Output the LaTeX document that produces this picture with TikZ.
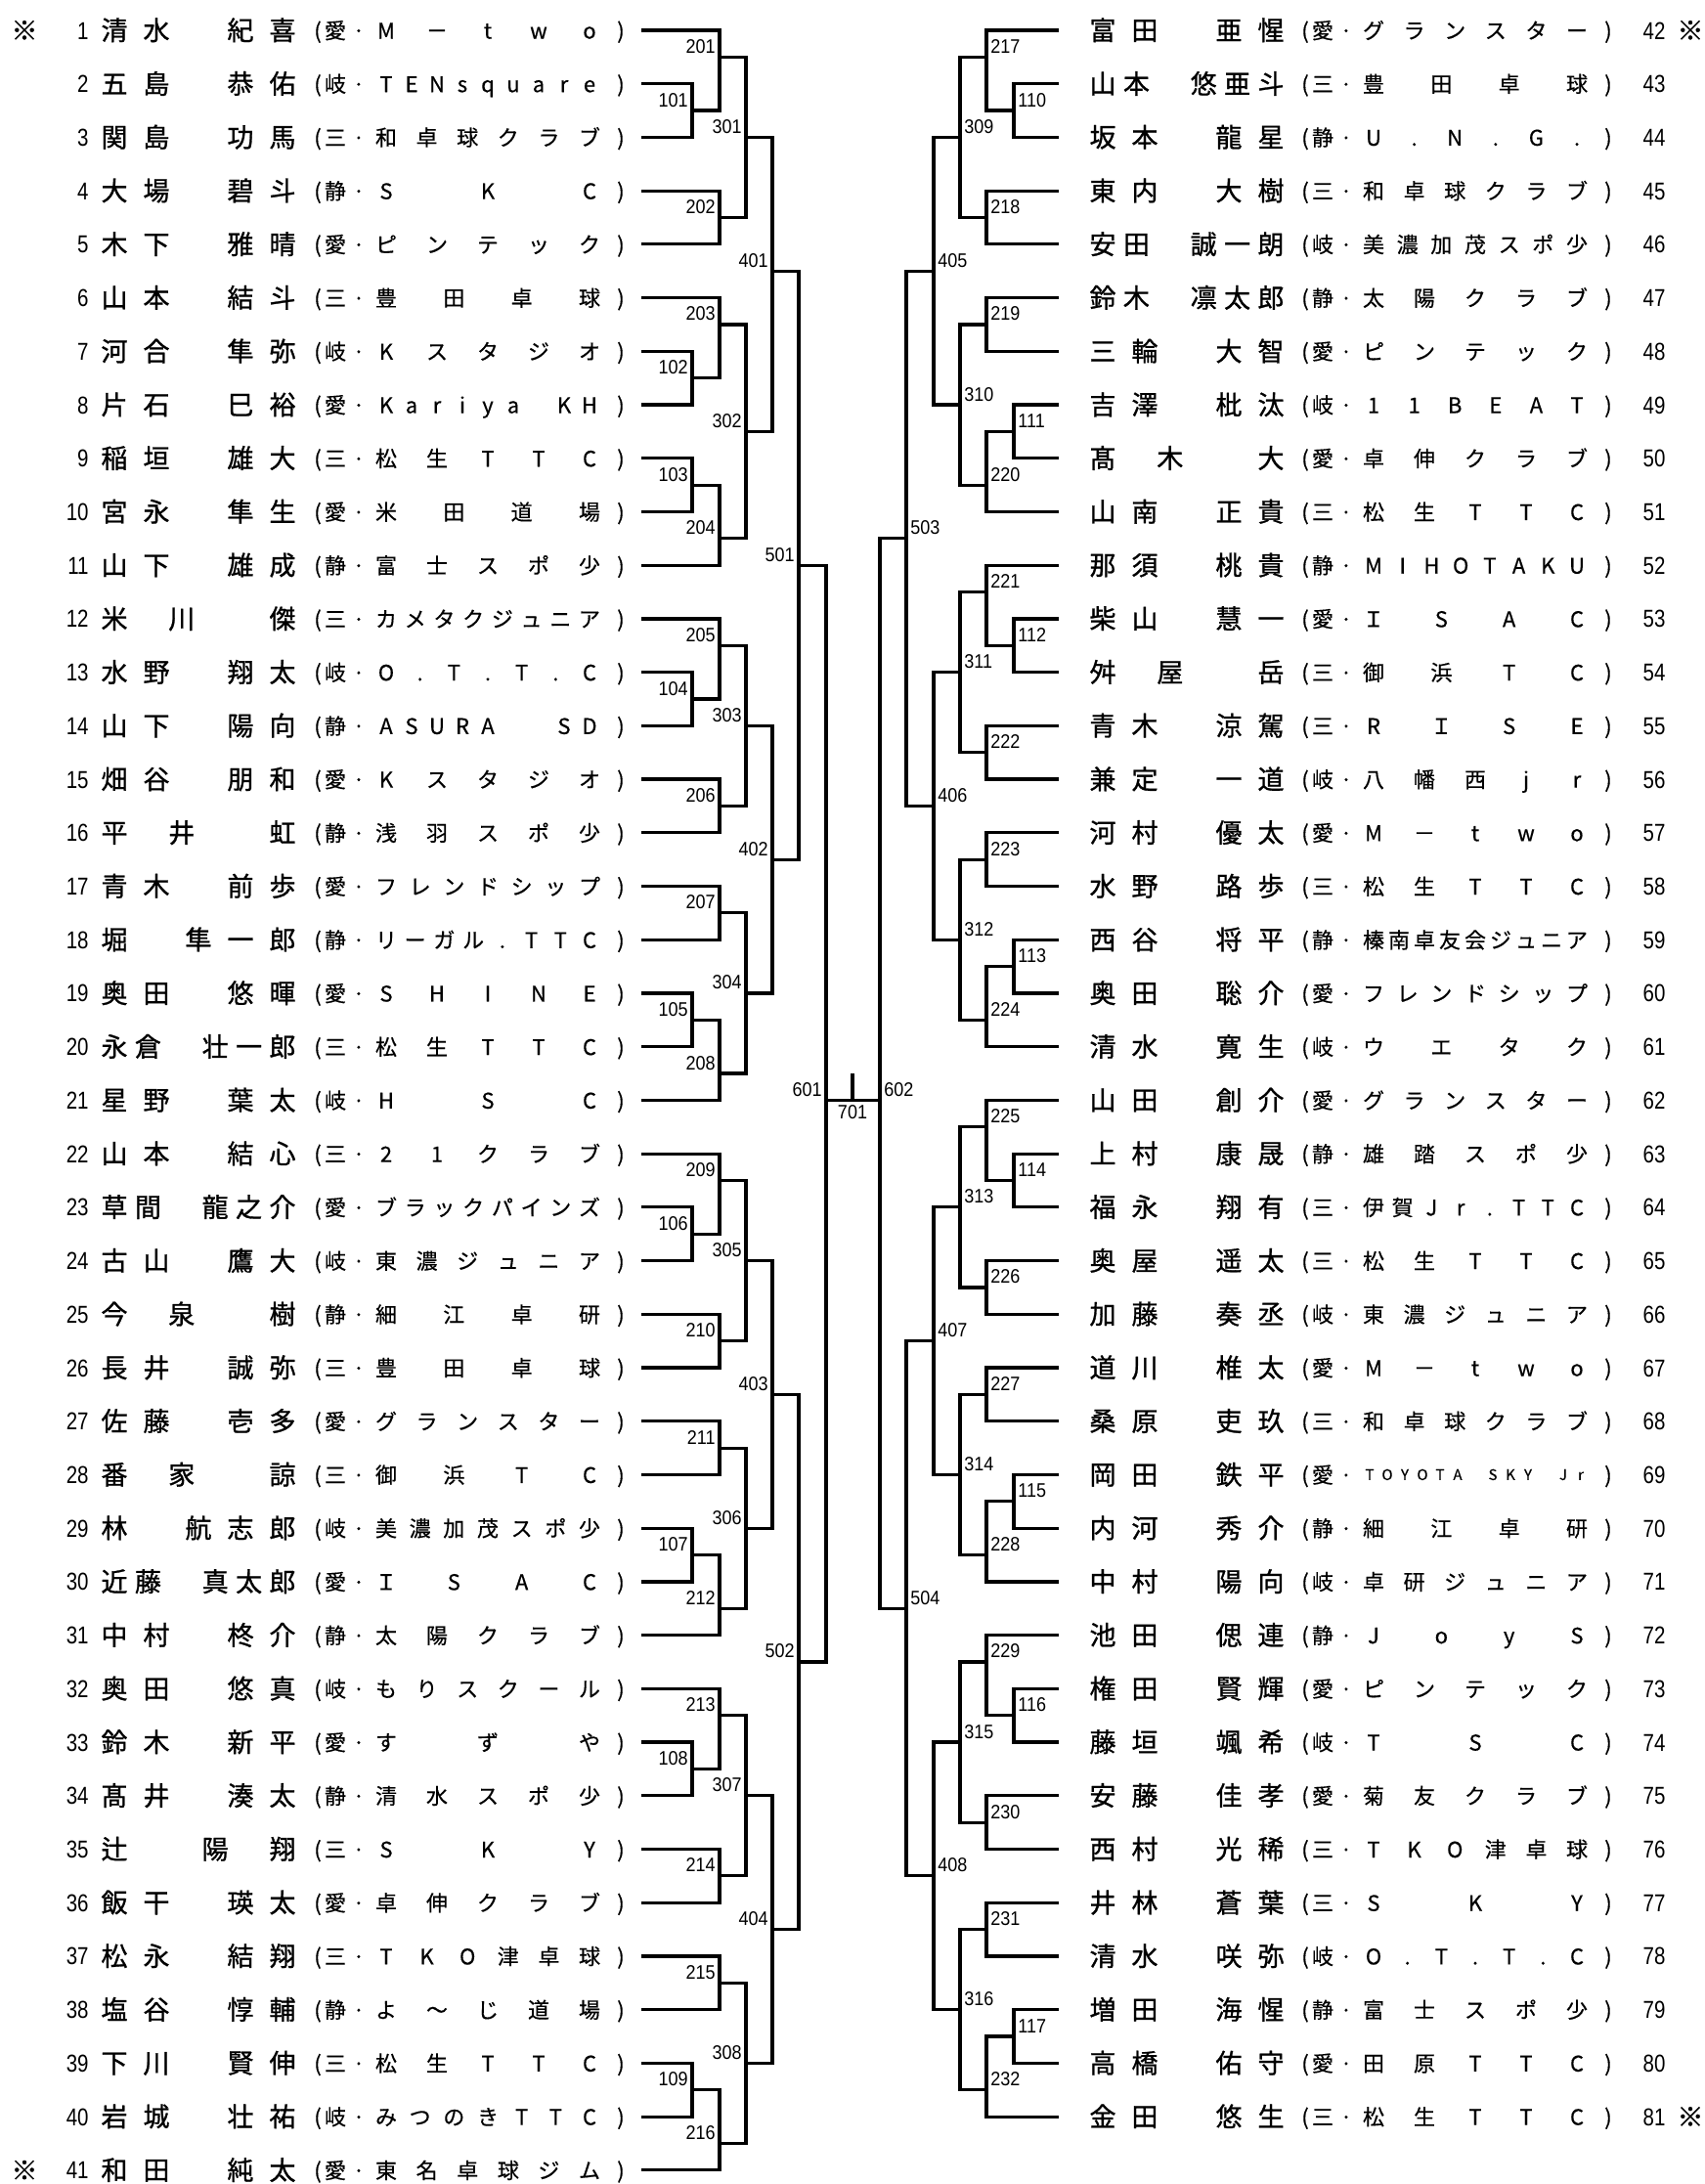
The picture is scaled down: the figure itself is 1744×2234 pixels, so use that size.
\documentclass[tikz,border=0pt]{standalone}
\usepackage{fontspec}
\newfontfamily\jpfont{Noto Sans CJK JP}[FakeBold=0.4]
\newfontfamily\jpnamefont{Noto Sans CJK JP}[FakeBold=1.0]
\newfontfamily\numfont{Liberation Sans}[FakeStretch=0.82]
\newfontfamily\lblfont{Liberation Sans}[FakeStretch=0.9]
\ExplSyntaxOn
\NewDocumentCommand\spreadtext{m m}
  {
    \hbox_to_wd:nn {#1}
      {
        \bool_set_true:N \l_tmpa_bool
        \tl_map_inline:nn {#2}
          {
            \bool_if:NTF \l_tmpa_bool
              { \bool_set_false:N \l_tmpa_bool }
              { \hfill }
            \hbox_to_wd:nn {0pt} { \hss ##1 \hss }
          }
      }
  }
\ExplSyntaxOff
\newcommand\RY[1]{(31+((#1)-1)*54.72)}
\tikzset{
  br/.style={line width=1.6pt, line join=miter},
  nmtext/.style={font=\jpnamefont\fontsize{13.5pt}{15pt}\selectfont, inner sep=0pt, anchor=base},
  tmtext/.style={font=\jpfont\fontsize{11pt}{12pt}\selectfont, inner sep=0pt, anchor=base},
  numtext/.style={font=\numfont\fontsize{12.5pt}{14pt}\selectfont, inner sep=0pt},
  lbltext/.style={font=\lblfont\fontsize{10pt}{11pt}\selectfont, inner sep=0pt},
}
\newcommand\LPlayer[4]{%
  \coordinate (p#1) at (656,{\RY{#1}});
  \node[numtext, anchor=base east] (no#1) at (91,{\RY{#1}+9}) {#1};
  \node[nmtext] (nm#1) at (203,{\RY{#1}+10}) {\spreadtext{86pt}{#2}};
  \node[tmtext] (lp#1) at (325,{\RY{#1}+8.5}) {(};
  \node[tmtext] (pf#1) at (343,{\RY{#1}+8.5}) {#3};
  \node[tmtext] (dt#1) at (367,{\RY{#1}+8.5}) {·};
  \node[tmtext] (tm#1) at (499,{\RY{#1}+8.5}) {\spreadtext{104pt}{#4}};
  \node[tmtext] (rp#1) at (635,{\RY{#1}+8.5}) {)};
}
\newcommand\RPlayer[4]{%
  \coordinate (p#1) at (1083,{\RY{#1-41}});
  \node[nmtext] (nm#1) at (1214,{\RY{#1-41}+10}) {\spreadtext{86pt}{#2}};
  \node[tmtext] (lp#1) at (1335,{\RY{#1-41}+8.5}) {(};
  \node[tmtext] (pf#1) at (1353,{\RY{#1-41}+8.5}) {#3};
  \node[tmtext] (dt#1) at (1377,{\RY{#1-41}+8.5}) {·};
  \node[tmtext] (tm#1) at (1509,{\RY{#1-41}+8.5}) {\spreadtext{104pt}{#4}};
  \node[tmtext] (rp#1) at (1645,{\RY{#1-41}+8.5}) {)};
  \node[numtext, anchor=base] (no#1) at (1692,{\RY{#1-41}+9}) {#1};
}
\newcommand\LMatch[5]{%
  \coordinate (m#1) at (#2,{\RY{#3}});
  \draw[br] (#4) -| (m#1) |- (#5);
  \node[lbltext, anchor=base east] (lb#1) at ({#2-4},{\RY{#3}-4}) {#1};
}
\newcommand\RMatch[5]{%
  \coordinate (m#1) at (#2,{\RY{#3}});
  \draw[br] (#4) -| (m#1) |- (#5);
  \node[lbltext, anchor=base west] (lb#1) at ({#2+4},{\RY{#3}-4}) {#1};
}
\begin{document}
\begin{tikzpicture}[x=0.5pt,y=-0.5pt]
\useasboundingbox (0,0) rectangle (1744,2234);
% left players
\LPlayer{1}{清水{}紀喜}{愛}{M－two}
\LPlayer{2}{五島{}恭佑}{岐}{TENsquare}
\LPlayer{3}{関島{}功馬}{三}{和卓球クラブ}
\LPlayer{4}{大場{}碧斗}{静}{SKC}
\LPlayer{5}{木下{}雅晴}{愛}{ピンテック}
\LPlayer{6}{山本{}結斗}{三}{豊田卓球}
\LPlayer{7}{河合{}隼弥}{岐}{Kスタジオ}
\LPlayer{8}{片石{}巳裕}{愛}{Kariya{}KH}
\LPlayer{9}{稲垣{}雄大}{三}{松生TTC}
\LPlayer{10}{宮永{}隼生}{愛}{米田道場}
\LPlayer{11}{山下{}雄成}{静}{富士スポ少}
\LPlayer{12}{米{}川{}{}傑}{三}{カメタクジュニア}
\LPlayer{13}{水野{}翔太}{岐}{O.T.T.C}
\LPlayer{14}{山下{}陽向}{静}{ASURA{}{}SD}
\LPlayer{15}{畑谷{}朋和}{愛}{Kスタジオ}
\LPlayer{16}{平{}井{}{}虹}{静}{浅羽スポ少}
\LPlayer{17}{青木{}前歩}{愛}{フレンドシップ}
\LPlayer{18}{堀{}隼一郎}{静}{リーガル.TTC}
\LPlayer{19}{奥田{}悠暉}{愛}{SHINE}
\LPlayer{20}{永倉{}壮一郎}{三}{松生TTC}
\LPlayer{21}{星野{}葉太}{岐}{HSC}
\LPlayer{22}{山本{}結心}{三}{21クラブ}
\LPlayer{23}{草間{}龍之介}{愛}{ブラックパインズ}
\LPlayer{24}{古山{}鷹大}{岐}{東濃ジュニア}
\LPlayer{25}{今{}泉{}{}樹}{静}{細江卓研}
\LPlayer{26}{長井{}誠弥}{三}{豊田卓球}
\LPlayer{27}{佐藤{}壱多}{愛}{グランスター}
\LPlayer{28}{番{}家{}{}諒}{三}{御浜TC}
\LPlayer{29}{林{}航志郎}{岐}{美濃加茂スポ少}
\LPlayer{30}{近藤{}真太郎}{愛}{ＩSAC}
\LPlayer{31}{中村{}柊介}{静}{太陽クラブ}
\LPlayer{32}{奥田{}悠真}{岐}{もりスクール}
\LPlayer{33}{鈴木{}新平}{愛}{すずや}
\LPlayer{34}{髙井{}湊太}{静}{清水スポ少}
\LPlayer{35}{辻{}{}陽{}翔}{三}{SKY}
\LPlayer{36}{飯干{}瑛太}{愛}{卓伸クラブ}
\LPlayer{37}{松永{}結翔}{三}{TKO津卓球}
\LPlayer{38}{塩谷{}惇輔}{静}{よ～じ道場}
\LPlayer{39}{下川{}賢伸}{三}{松生TTC}
\LPlayer{40}{岩城{}壮祐}{岐}{みつのきTTC}
\LPlayer{41}{和田{}純太}{愛}{東名卓球ジム}
% right players
\RPlayer{42}{富田{}亜惺}{愛}{グランスター}
\RPlayer{43}{山本{}悠亜斗}{三}{豊田卓球}
\RPlayer{44}{坂本{}龍星}{静}{U.N.G.}
\RPlayer{45}{東内{}大樹}{三}{和卓球クラブ}
\RPlayer{46}{安田{}誠一朗}{岐}{美濃加茂スポ少}
\RPlayer{47}{鈴木{}凛太郎}{静}{太陽クラブ}
\RPlayer{48}{三輪{}大智}{愛}{ピンテック}
\RPlayer{49}{吉澤{}枇汰}{岐}{11BEAT}
\RPlayer{50}{髙{}木{}{}大}{愛}{卓伸クラブ}
\RPlayer{51}{山南{}正貴}{三}{松生TTC}
\RPlayer{52}{那須{}桃貴}{静}{MIHOTAKU}
\RPlayer{53}{柴山{}慧一}{愛}{ＩSAC}
\RPlayer{54}{舛{}屋{}{}岳}{三}{御浜TC}
\RPlayer{55}{青木{}涼駕}{三}{RＩSE}
\RPlayer{56}{兼定{}一道}{岐}{八幡西jr}
\RPlayer{57}{河村{}優太}{愛}{M－two}
\RPlayer{58}{水野{}路歩}{三}{松生TTC}
\RPlayer{59}{西谷{}将平}{静}{榛南卓友会ジュニア}
\RPlayer{60}{奥田{}聡介}{愛}{フレンドシップ}
\RPlayer{61}{清水{}寛生}{岐}{ウエタク}
\RPlayer{62}{山田{}創介}{愛}{グランスター}
\RPlayer{63}{上村{}康晟}{静}{雄踏スポ少}
\RPlayer{64}{福永{}翔有}{三}{伊賀Jr.TTC}
\RPlayer{65}{奥屋{}遥太}{三}{松生TTC}
\RPlayer{66}{加藤{}奏丞}{岐}{東濃ジュニア}
\RPlayer{67}{道川{}椎太}{愛}{M－two}
\RPlayer{68}{桑原{}吏玖}{三}{和卓球クラブ}
\RPlayer{69}{岡田{}鉄平}{愛}{{}{\fontsize{7.5pt}{8pt}\selectfont\raisebox{1.5pt}{\spreadtext{108pt}{TOYOTA{}SKY{}Jr}}}{}}
\RPlayer{70}{内河{}秀介}{静}{細江卓研}
\RPlayer{71}{中村{}陽向}{岐}{卓研ジュニア}
\RPlayer{72}{池田{}偲連}{静}{JoyS}
\RPlayer{73}{権田{}賢輝}{愛}{ピンテック}
\RPlayer{74}{藤垣{}颯希}{岐}{TSC}
\RPlayer{75}{安藤{}佳孝}{愛}{菊友クラブ}
\RPlayer{76}{西村{}光稀}{三}{TKO津卓球}
\RPlayer{77}{井林{}蒼葉}{三}{SKY}
\RPlayer{78}{清水{}咲弥}{岐}{O.T.T.C}
\RPlayer{79}{増田{}海惺}{静}{富士スポ少}
\RPlayer{80}{高橋{}佑守}{愛}{田原TTC}
\RPlayer{81}{金田{}悠生}{三}{松生TTC}
% marks
\node[nmtext] (mk1) at (25,{\RY{1}+10}) {※};
\node[nmtext] (mk41) at (25,{\RY{41}+10}) {※};
\node[nmtext] (mk42) at (1729,{\RY{1}+10}) {※};
\node[nmtext] (mk81) at (1729,{\RY{40}+10}) {※};
% left bracket
\LMatch{101}{708}{2.5}{p2}{p3}
\LMatch{102}{708}{7.5}{p7}{p8}
\LMatch{103}{708}{9.5}{p9}{p10}
\LMatch{104}{708}{13.5}{p13}{p14}
\LMatch{105}{708}{19.5}{p19}{p20}
\LMatch{106}{708}{23.5}{p23}{p24}
\LMatch{107}{708}{29.5}{p29}{p30}
\LMatch{108}{708}{33.5}{p33}{p34}
\LMatch{109}{708}{39.5}{p39}{p40}
\LMatch{201}{736}{1.5}{p1}{m101}
\LMatch{202}{736}{4.5}{p4}{p5}
\LMatch{203}{736}{6.5}{p6}{m102}
\LMatch{204}{736}{10.5}{m103}{p11}
\LMatch{205}{736}{12.5}{p12}{m104}
\LMatch{206}{736}{15.5}{p15}{p16}
\LMatch{207}{736}{17.5}{p17}{p18}
\LMatch{208}{736}{20.5}{m105}{p21}
\LMatch{209}{736}{22.5}{p22}{m106}
\LMatch{210}{736}{25.5}{p25}{p26}
\LMatch{211}{736}{27.5}{p27}{p28}
\LMatch{212}{736}{30.5}{m107}{p31}
\LMatch{213}{736}{32.5}{p32}{m108}
\LMatch{214}{736}{35.5}{p35}{p36}
\LMatch{215}{736}{37.5}{p37}{p38}
\LMatch{216}{736}{40.5}{m109}{p41}
\LMatch{301}{763}{3}{m201}{m202}
\LMatch{302}{763}{8.5}{m203}{m204}
\LMatch{303}{763}{14}{m205}{m206}
\LMatch{304}{763}{19}{m207}{m208}
\LMatch{305}{763}{24}{m209}{m210}
\LMatch{306}{763}{29}{m211}{m212}
\LMatch{307}{763}{34}{m213}{m214}
\LMatch{308}{763}{39}{m215}{m216}
\LMatch{401}{790}{5.5}{m301}{m302}
\LMatch{402}{790}{16.5}{m303}{m304}
\LMatch{403}{790}{26.5}{m305}{m306}
\LMatch{404}{790}{36.5}{m307}{m308}
\LMatch{501}{817}{11}{m401}{m402}
\LMatch{502}{817}{31.5}{m403}{m404}
\LMatch{601}{845}{21}{m501}{m502}
% right bracket
\RMatch{110}{1037}{2.5}{p43}{p44}
\RMatch{111}{1037}{8.5}{p49}{p50}
\RMatch{112}{1037}{12.5}{p53}{p54}
\RMatch{113}{1037}{18.5}{p59}{p60}
\RMatch{114}{1037}{22.5}{p63}{p64}
\RMatch{115}{1037}{28.5}{p69}{p70}
\RMatch{116}{1037}{32.5}{p73}{p74}
\RMatch{117}{1037}{38.5}{p79}{p80}
\RMatch{217}{1009}{1.5}{p42}{m110}
\RMatch{218}{1009}{4.5}{p45}{p46}
\RMatch{219}{1009}{6.5}{p47}{p48}
\RMatch{220}{1009}{9.5}{m111}{p51}
\RMatch{221}{1009}{11.5}{p52}{m112}
\RMatch{222}{1009}{14.5}{p55}{p56}
\RMatch{223}{1009}{16.5}{p57}{p58}
\RMatch{224}{1009}{19.5}{m113}{p61}
\RMatch{225}{1009}{21.5}{p62}{m114}
\RMatch{226}{1009}{24.5}{p65}{p66}
\RMatch{227}{1009}{26.5}{p67}{p68}
\RMatch{228}{1009}{29.5}{m115}{p71}
\RMatch{229}{1009}{31.5}{p72}{m116}
\RMatch{230}{1009}{34.5}{p75}{p76}
\RMatch{231}{1009}{36.5}{p77}{p78}
\RMatch{232}{1009}{39.5}{m117}{p81}
\RMatch{309}{982}{3}{m217}{m218}
\RMatch{310}{982}{8}{m219}{m220}
\RMatch{311}{982}{13}{m221}{m222}
\RMatch{312}{982}{18}{m223}{m224}
\RMatch{313}{982}{23}{m225}{m226}
\RMatch{314}{982}{28}{m227}{m228}
\RMatch{315}{982}{33}{m229}{m230}
\RMatch{316}{982}{38}{m231}{m232}
\RMatch{405}{955}{5.5}{m309}{m310}
\RMatch{406}{955}{15.5}{m311}{m312}
\RMatch{407}{955}{25.5}{m313}{m314}
\RMatch{408}{955}{35.5}{m315}{m316}
\RMatch{503}{927}{10.5}{m405}{m406}
\RMatch{504}{927}{30.5}{m407}{m408}
\RMatch{602}{900}{21}{m503}{m504}
% final
\coordinate (m701) at (872,{\RY{21}});
\coordinate (t701) at (872,{\RY{20.5}});
\draw[br] (m601) -- (m602);
\draw[br] (m701) -- (t701);
\node[lbltext, anchor=north] (lb701) at (872,{\RY{21}+5}) {701};
\end{tikzpicture}
\end{document}
